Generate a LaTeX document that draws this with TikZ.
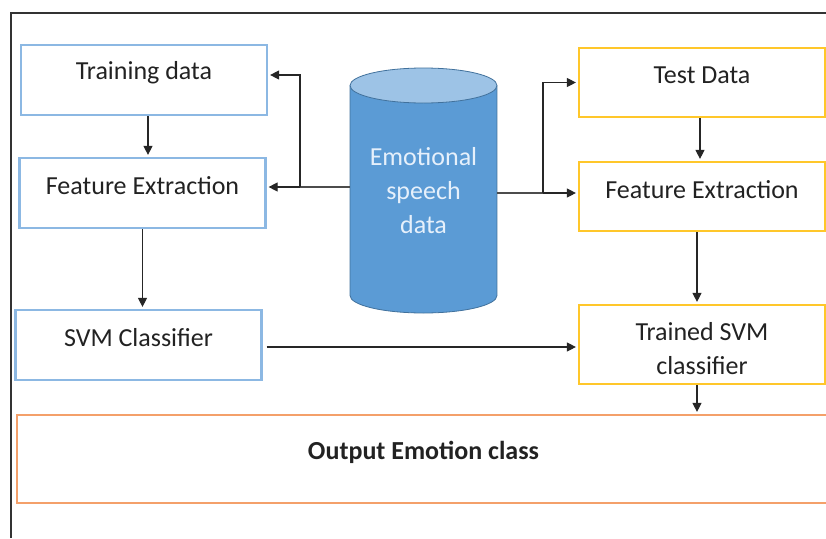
\documentclass[tikz,border=0pt]{standalone}
\usepackage{fontspec}
\setmainfont{Carlito}
\usetikzlibrary{arrows.meta,calc}
\definecolor{bluebd}{HTML}{8CB8E3}
\definecolor{yellowbd}{HTML}{FFC72A}
\definecolor{orangebd}{HTML}{F4A06A}
\definecolor{txt}{HTML}{222222}
\definecolor{cylbody}{HTML}{5B9BD5}
\definecolor{cyltop}{HTML}{9DC3E6}
\definecolor{cylline}{HTML}{41719C}
\definecolor{cyltext}{HTML}{E6F0FB}
\begin{document}
\begin{tikzpicture}[x=1pt,y=-1pt,
  every label/.style={text=txt, font=\fontsize{26}{34}\selectfont, align=center, inner sep=0pt},
  boxbase/.style={rectangle, line width=2.2pt, minimum width=246pt, minimum height=70pt, inner sep=0pt},
  bluebox/.style={boxbase, draw=bluebd},
  yellowbox/.style={boxbase, draw=yellowbd},
  lbl/.style={label={[yshift=7pt]center:#1}},
  arr/.style={draw=black!85, line width=1.1pt, -{Triangle[length=9pt,width=9pt]}, shorten >=2pt},
  ln/.style={draw=black!70, line width=1.1pt}
]
\useasboundingbox (0,0) rectangle (826,538);
% frame of the screenshot
\draw[draw=black!80, line width=1.2pt] (11,538) -- (11,13) -- (826,13);

% left column
\node[bluebox, lbl={Training data}] (train) at (144,80) {};
\node[bluebox, lbl={Feature Extraction}] (fel) at (142.5,193) {};
\node[bluebox, lbl={SVM Classifier}] (svm) at (138.5,345) {};

% right column
\node[yellowbox, minimum height=69pt, lbl={Test Data}] (test) at (702,82.5) {};
\node[yellowbox, minimum height=69pt, lbl={Feature Extraction}] (fer) at (702,196.5) {};
\node[yellowbox, minimum height=79pt, label={[yshift=-4pt]center:Trained SVM\\classifier}] (trained) at (702,344.5) {};

% output
\node[boxbase, draw=orangebd, minimum width=813pt, minimum height=88pt,
      label={[yshift=7pt, font=\fontsize{26}{34}\selectfont\bfseries]center:Output Emotion class}] (out) at (423.5,459) {};

% cylinder
\fill[cylbody] (350,85.5) rectangle (497,295.5);
\fill[cylbody] (423.5,295.5) ellipse [x radius=73.5pt, y radius=17.5pt];
\draw[cylline, line width=0.8pt] (350,85.5) -- (350,295.5)
   arc[start angle=180, end angle=360, x radius=73.5pt, y radius=17.5pt] -- (497,85.5);
\filldraw[fill=cyltop, draw=cylline, line width=0.8pt] (423.5,85.5) ellipse [x radius=73.5pt, y radius=17.5pt];
\node[minimum width=147pt, minimum height=245pt, inner sep=0pt, text=cyltext,
      font=\fontsize{26}{34}\selectfont, align=center] (cyl) at (423.5,190.5)
      {Emotional\\speech\\data};

% connectors from the database
\coordinate (lb) at (300,187);
\coordinate (rb) at (543,193);
\coordinate (tin) at ([yshift=5pt]train.east);
\draw[ln] ([yshift=3.5pt]cyl.west) -- (lb);
\draw[arr] (lb) -- (lb -| fel.east);
\draw[arr] (lb) -- (lb |- tin) -- (tin);
\draw[ln] ([yshift=-2.5pt]cyl.east) -- (rb);
\draw[arr] (rb) -- (rb -| fer.west);
\draw[arr] (rb) -- (rb |- test.west) -- (test.west);

% vertical flow
\draw[arr] ([xshift=4pt]train.south) -- ([xshift=4pt]train.south |- fel.north);
\draw[arr] (fel.south) -- (fel.south |- svm.north);
\draw[arr] ([xshift=-2pt]test.south) -- ([xshift=-2pt]test.south |- fer.north);
\draw[arr] ([xshift=-5pt]fer.south) -- ([xshift=-5pt]fer.south |- trained.north);
\draw[arr] ([xshift=-5pt]trained.south) -- ([xshift=-5pt]trained.south |- out.north);

% SVM to trained
\draw[arr, shorten <=4pt] ([yshift=-2pt]svm.east) -- ([yshift=-2pt]svm.east -| trained.west);
\end{tikzpicture}
\end{document}
